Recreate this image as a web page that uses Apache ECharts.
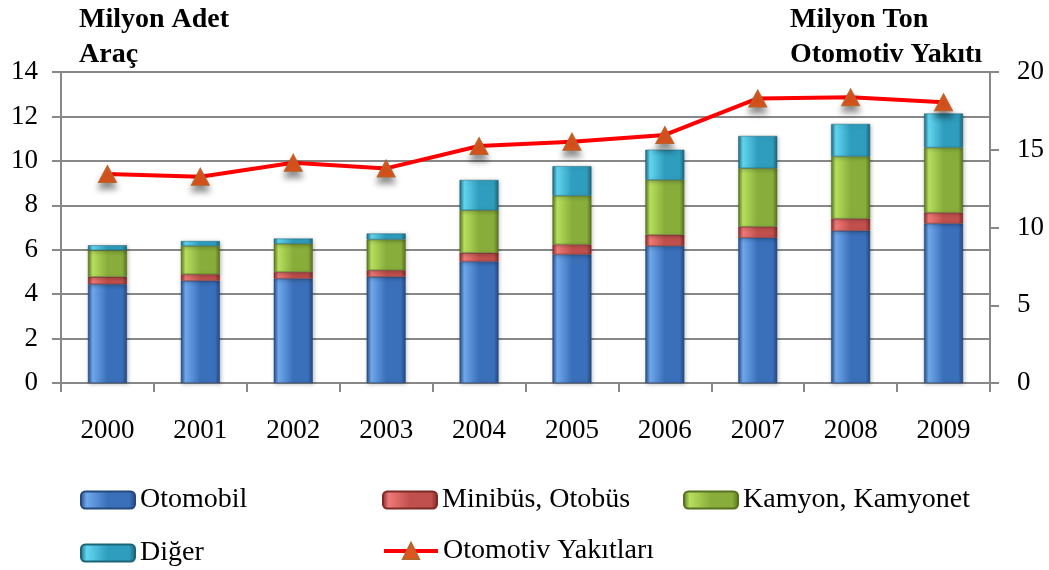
<!DOCTYPE html>
<html>
<head>
<meta charset="utf-8">
<script src="https://cdn.jsdelivr.net/npm/echarts@6/dist/echarts.min.js"></script>
<style>
  html, body { margin: 0; padding: 0; background: #fff; }
  #chart { width: 1049px; height: 570px; }
</style>
</head>
<body>
<div id="chart"></div>
<script>
// veriler
var years = ['2000', '2001', '2002', '2003', '2004', '2005', '2006', '2007', '2008', '2009'];
var otomobil = [4.45, 4.6, 4.7, 4.78, 5.47, 5.79, 6.17, 6.54, 6.85, 7.18];
var minibus = [0.33, 0.3, 0.3, 0.3, 0.39, 0.45, 0.5, 0.5, 0.55, 0.49];
var kamyon = [1.2, 1.27, 1.27, 1.38, 1.92, 2.19, 2.47, 2.63, 2.8, 2.93];
var diger = [0.22, 0.22, 0.23, 0.27, 1.36, 1.33, 1.36, 1.45, 1.46, 1.53];
var yakit = [13.44, 13.27, 14.17, 13.8, 15.24, 15.52, 15.95, 18.3, 18.37, 18.05];
var leftTicks = [0, 14, 2];
var rightTicks = [0, 20, 5];

var FONT = '"Liberation Serif", serif';

// bar gradyanı (soldan sağa, kenarlar koyu)
function bevel(light, mid, dark) {
    return new echarts.graphic.LinearGradient(0, 0, 1, 0, [
        { offset: 0, color: dark },
        { offset: 0.12, color: light },
        { offset: 0.5, color: mid },
        { offset: 0.88, color: mid },
        { offset: 1, color: dark }
    ]);
}

var barStyle = function (light, mid, dark) {
    return {
        color: bevel(light, mid, dark),
        borderColor: dark,
        borderWidth: 0.5,
        shadowColor: 'rgba(0,0,0,0.25)',
        shadowBlur: 4,
        shadowOffsetX: 1,
        shadowOffsetY: 1
    };
};

var myChart = echarts.init(document.getElementById('chart'));
var legendText = { fontFamily: FONT, fontSize: 28, color: '#000' };
var titleText = { fontFamily: FONT, fontSize: 28, fontWeight: 'bold', color: '#000', lineHeight: 35 };
// lejant öğeleri
function leg(name, left, top, h) {
    return {
        data: [name], left: left, top: top, padding: 0,
        itemWidth: 54, itemHeight: h || 17,
        lineStyle: { width: 4 },
        textStyle: legendText
    };
}
var option = {
    backgroundColor: '#fff',
    animation: false,
    textStyle: { fontFamily: FONT },
    title: [{
        text: 'Milyon Adet\nAraç',
        left: 79, top: 2, padding: 0,
        textStyle: titleText
    }, {
        text: 'Milyon Ton\nOtomotiv Yakıtı',
        left: 790, top: 2, padding: 0,
        textStyle: titleText
    }],
    legend: [
        leg('Otomobil', 80, 486),
        leg('Minibüs, Otobüs', 382, 486),
        leg('Kamyon, Kamyonet', 683, 486),
        leg('Diğer', 80, 539),
        leg('Otomotiv Yakıtları', 382, 537, 20)
    ],
    grid: { left: 61, right: 59, top: 72, bottom: 187, containLabel: false },
    xAxis: {
        type: 'category',
        data: years,
        axisLine: { lineStyle: { color: '#888', width: 2 } },
        axisTick: { show: true, length: 9, lineStyle: { color: '#888', width: 2 } },
        axisLabel: { margin: 34, fontSize: 27, color: '#000', fontFamily: FONT }
    },
    yAxis: [{
        type: 'value',
        min: leftTicks[0], max: leftTicks[1], interval: leftTicks[2],
        axisLine: { show: true, lineStyle: { color: '#888', width: 2 } },
        axisTick: { show: true, length: 9, lineStyle: { color: '#888', width: 2 } },
        splitLine: { lineStyle: { color: '#888', width: 2 } },
        axisLabel: { margin: 23, fontSize: 27, color: '#000', fontFamily: FONT }
    }, {
        type: 'value',
        min: rightTicks[0], max: rightTicks[1], interval: rightTicks[2],
        axisLine: { show: true, lineStyle: { color: '#888', width: 2 } },
        axisTick: { show: true, length: 9, lineStyle: { color: '#888', width: 2 } },
        splitLine: { show: false },
        axisLabel: { margin: 27, fontSize: 27, color: '#000', fontFamily: FONT }
    }],
    series: [{
        name: 'Otomobil', type: 'bar', stack: 'arac', barWidth: 39,
        itemStyle: barStyle('#6fa8ec', '#3a6fb9', '#24497f'),
        data: otomobil
    }, {
        name: 'Minibüs, Otobüs', type: 'bar', stack: 'arac', barWidth: 39,
        itemStyle: barStyle('#f07a78', '#c0504d', '#7e2a28'),
        data: minibus
    }, {
        name: 'Kamyon, Kamyonet', type: 'bar', stack: 'arac', barWidth: 39,
        itemStyle: barStyle('#b8df5e', '#88ad3b', '#56721f'),
        data: kamyon
    }, {
        name: 'Diğer', type: 'bar', stack: 'arac', barWidth: 39,
        itemStyle: barStyle('#62d6f0', '#2f9dbd', '#1d6478'),
        data: diger
    }, {
        name: 'Otomotiv Yakıtları', type: 'line', yAxisIndex: 1,
        symbol: 'triangle', symbolSize: [18, 17],
        lineStyle: { color: '#ff0000', width: 4 },
        itemStyle: {
            color: '#e0561e', borderColor: '#b4652a', borderWidth: 1,
            shadowColor: 'rgba(0,0,0,0.45)', shadowBlur: 6, shadowOffsetY: 6
        },
        data: yakit
    }]
};
myChart.setOption(option);
</script>
</body>
</html>
